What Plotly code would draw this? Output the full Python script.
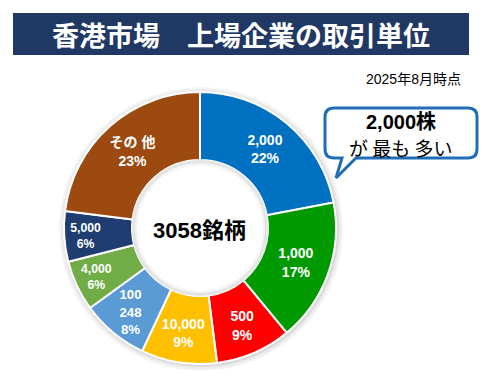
import plotly.graph_objects as go

categories = ["2,000", "1,000", "500", "10,000", "100<br>248", "4,000", "5,000", "その 他"]
shares = [22, 17, 9, 9, 8, 6, 6, 23]
colors = ["#0070C0", "#009A00", "#FF0000", "#FFC000", "#5B9BD5", "#70AD47", "#1F3D70", "#9C4A10"]
total_label = "3058銘柄"
title_text = "香港市場　上場企業の取引単位"
date_text = "2025年8月時点"
callout_lines = ["<b>2,000株</b>", "が 最も 多い"]

W, H = 489, 380

def px(x):
    return x / W

def py(y):
    return 1 - y / H

labels_text = [f"{c}<br>{s}%" for c, s in zip(categories, shares)]

CX, CY, R = 200, 228, 136
HOLE = 0.5

fig = go.Figure()
fig.add_trace(go.Pie(
    labels=categories,
    values=shares,
    text=labels_text,
    texttemplate="<b>%{text}</b>",
    textinfo="text",
    textposition="inside",
    insidetextorientation="horizontal",
    insidetextfont=dict(family="Liberation Sans, Noto Sans CJK JP", size=14, color="white"),
    marker=dict(colors=colors, line=dict(color="white", width=2)),
    hole=HOLE,
    sort=False,
    direction="clockwise",
    rotation=0,
    showlegend=False,
    domain=dict(x=[px(CX - R), px(CX + R)], y=[py(CY + R), py(CY - R)]),
    hoverinfo="skip",
))

shapes = [
    dict(type="rect", xref="paper", yref="paper", x0=px(13), x1=px(469), y0=py(55), y1=py(13),
         fillcolor="#203864", line=dict(width=0), layer="below"),
]
# soft shadow around the ring
for d, c in [(6, "#f5f5f5"), (4, "#ebebeb"), (2, "#dadada")]:
    shapes.append(dict(type="circle", xref="paper", yref="paper",
                       x0=px(CX - R - d + 1), x1=px(CX + R + d + 1),
                       y0=py(CY + R + d + 1), y1=py(CY - R - d + 1),
                       fillcolor=c, line=dict(width=0), layer="below"))
ri = R * HOLE
shapes.append(dict(type="circle", xref="paper", yref="paper",
                   x0=px(CX - ri - 1), x1=px(CX + ri + 1),
                   y0=py(CY + ri + 1), y1=py(CY - ri - 1),
                   fillcolor="white", line=dict(width=0), layer="below"))
# inner shadow of the hole
for d, c, wdt in [(1.5, "rgba(0,0,0,0.10)", 3), (4, "rgba(0,0,0,0.04)", 3)]:
    shapes.append(dict(type="circle", xref="paper", yref="paper",
                       x0=px(CX - ri + d), x1=px(CX + ri - d),
                       y0=py(CY + ri - d), y1=py(CY - ri + d),
                       fillcolor="rgba(0,0,0,0)", line=dict(width=wdt, color=c), layer="above"))

# callout box (rounded rectangle with tail)
x0, x1, y0, y1, r = 325, 477, 108, 158, 9
tx0, tx1, tipx, tipy = 342, 356, 336, 178
path = (f"M {px(x0+r)},{py(y0)} L {px(x1-r)},{py(y0)} Q {px(x1)},{py(y0)} {px(x1)},{py(y0+r)} "
        f"L {px(x1)},{py(y1-r)} Q {px(x1)},{py(y1)} {px(x1-r)},{py(y1)} "
        f"L {px(tx1)},{py(y1)} L {px(tipx)},{py(tipy)} L {px(tx0)},{py(y1)} "
        f"L {px(x0+r)},{py(y1)} Q {px(x0)},{py(y1)} {px(x0)},{py(y1-r)} "
        f"L {px(x0)},{py(y0+r)} Q {px(x0)},{py(y0)} {px(x0+r)},{py(y0)} Z")
shapes.append(dict(type="path", xref="paper", yref="paper", path=path,
                   fillcolor="white", line=dict(color="#1F6DB5", width=3)))

annotations = [
    dict(text=f"<b>{title_text}</b>", x=px(241), y=py(34), xref="paper", yref="paper",
         showarrow=False, font=dict(family="Noto Sans CJK JP", size=27, color="white"),
         xanchor="center", yanchor="middle"),
    dict(text=date_text, x=px(463), y=py(79), xref="paper", yref="paper",
         showarrow=False, font=dict(family="Liberation Sans, Noto Sans CJK JP", size=14, color="black"),
         xanchor="right", yanchor="middle"),
    dict(text=f"<b>{total_label}</b>", x=px(199), y=py(230), xref="paper", yref="paper",
         showarrow=False, font=dict(family="Liberation Sans, Noto Sans CJK JP", size=22, color="black"),
         xanchor="center", yanchor="middle"),
    dict(text=callout_lines[0], x=px(401), y=py(122), xref="paper", yref="paper",
         showarrow=False, font=dict(family="Liberation Sans, Noto Sans CJK JP", size=20, color="black"),
         xanchor="center", yanchor="middle"),
    dict(text=callout_lines[1], x=px(401), y=py(147), xref="paper", yref="paper",
         showarrow=False, font=dict(family="Noto Sans CJK JP", size=19, color="black"),
         xanchor="center", yanchor="middle"),
]

fig.update_layout(
    width=W, height=H,
    margin=dict(l=0, r=0, t=0, b=0),
    paper_bgcolor="white", plot_bgcolor="white",
    shapes=shapes, annotations=annotations,
)

fig.write_html("out.html", config={"displayModeBar": False},
               post_script="document.body.style.margin='0';")
